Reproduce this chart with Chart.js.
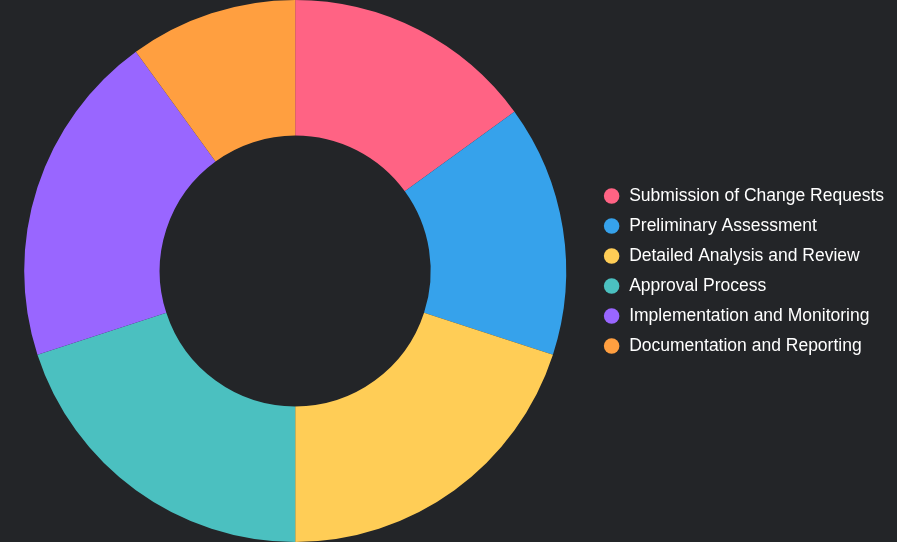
<!DOCTYPE html>
<html>
<head>
<meta charset="utf-8">
<script src="https://cdn.jsdelivr.net/npm/chart.js@4"></script>
<style>
html,body{margin:0;padding:0;background:#232528;}
#wrap{width:897px;height:542px;position:relative;}
</style>
</head>
<body>
<div id="wrap"><canvas id="c"></canvas></div>
<script>
const categories = [
  "Submission of Change Requests",
  "Preliminary Assessment",
  "Detailed Analysis and Review",
  "Approval Process",
  "Implementation and Monitoring",
  "Documentation and Reporting"
];
const values = [15, 15, 20, 20, 20, 10];
const colors = ["#FF6384", "#36A2EB", "#FFCD56", "#4BC0C0", "#9966FF", "#FF9F40"];

new Chart(document.getElementById('c'), {
  type: 'doughnut',
  data: {
    labels: categories,
    datasets: [{
      data: values,
      backgroundColor: colors,
      borderWidth: 0
    }]
  },
  options: {
    responsive: true,
    maintainAspectRatio: false,
    animation: false,
    cutout: '50%',
    layout: { padding: { right: 3 } },
    plugins: {
      legend: {
        position: 'right',
        labels: {
          color: '#ffffff',
          usePointStyle: true,
          pointStyle: 'circle',
          boxWidth: 17.5,
          boxHeight: 11,
          padding: 12.5,
          font: { family: 'Liberation Sans, Arial, sans-serif', size: 17.5 }
        }
      },
      tooltip: { enabled: false }
    }
  }
});
</script>
</body>
</html>
